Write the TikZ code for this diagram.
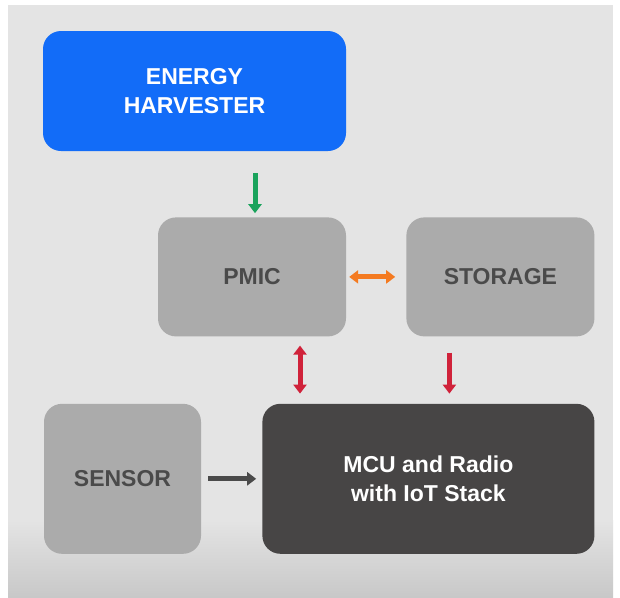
\documentclass[tikz,border=0pt]{standalone}
\usepackage{fontspec}
\setmainfont{Liberation Sans}
\usepackage{tikz}
\usetikzlibrary{shapes,arrows.meta,positioning,fit,backgrounds}
\definecolor{bgray}{RGB}{228, 228, 228}
\definecolor{bgdark}{RGB}{200, 200, 200}
\definecolor{hblue}{RGB}{18, 108, 248}
\definecolor{bxgray}{RGB}{171, 171, 171}
\definecolor{txgray}{RGB}{74, 74, 74}
\definecolor{mcudark}{RGB}{71, 69, 69}
\definecolor{agreen}{RGB}{26, 163, 92}
\definecolor{aorange}{RGB}{244, 122, 32}
\definecolor{ared}{RGB}{208, 34, 58}
\tikzstyle{block} = [rectangle, rounded corners=18pt, draw=none, align=center, text centered, font=\bfseries\fontsize{23}{29}\selectfont]
\tikzstyle{harvest} = [block, fill=hblue, text=white, minimum width=303pt, minimum height=120pt]
\tikzstyle{unit} = [block, fill=bxgray, text=txgray, minimum width=188pt, minimum height=119pt]
\tikzstyle{core} = [block, fill=mcudark, text=white, minimum width=332pt, minimum height=150pt]
\tikzstyle{tedge}  = [draw, line width=5pt, -{Triangle[length=9pt,width=13pt]}]
\tikzstyle{dedge}  = [draw, line width=5pt, {Triangle[length=9pt,width=13pt]}-{Triangle[length=9pt,width=13pt]}]

\begin{document}
\begin{tikzpicture}[x=1pt, y=1pt]

% background =============================
\path[fill=white] (0,0) rectangle (620,-597);
\path[fill=bgray] (8,-5) rectangle (613,-520);
\path[top color=bgray, bottom color=bgdark] (8,-520) rectangle (613,-597);

% blocks =============================

% source
\node[harvest] (eh) at (194.5,-91) {ENERGY\\HARVESTER};

% power path
\node[unit, below=66pt of eh.south east, anchor=north east] (pmic) {PMIC};
\node[unit, right=60pt of pmic] (storage) {STORAGE};

% processing
\node[core, below=67pt of storage.south east, anchor=north east] (mcu) {MCU and Radio\\with IoT Stack};
\node[unit, left=61pt of mcu, minimum width=157pt, minimum height=150pt] (sensor) {SENSOR};

%edges
\path[tedge, agreen, shorten <=22pt, shorten >=4pt] ([xshift=3pt]pmic.north |- eh.south) -- ([xshift=3pt]pmic.north);
\path[dedge, aorange, shorten <=3pt, shorten >=11pt] (pmic.east) -- (storage.west);
\path[dedge, ared, shorten <=9pt, shorten >=10pt] ([xshift=48pt]pmic.south) -- ([xshift=48pt]pmic.south |- mcu.north);
\path[tedge, ared, shorten <=16pt, shorten >=10pt] ([xshift=-51pt]storage.south) -- ([xshift=-51pt]storage.south |- mcu.north);
\path[tedge, txgray, shorten <=7pt, shorten >=6pt] (sensor.east) -- (mcu.west);

\end{tikzpicture}
\end{document}
